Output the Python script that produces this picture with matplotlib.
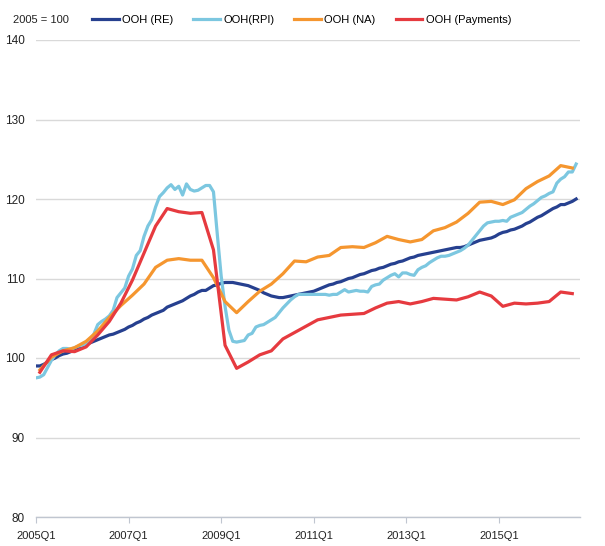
import numpy as np
import matplotlib
matplotlib.use("Agg")
import matplotlib.pyplot as plt

plt.rcParams['font.family'] = ['Liberation Sans', 'DejaVu Sans']

# monthly series, Jan 2005 .. Sep 2016 (index 0 = 2005 M1)
ooh_re = [
    99.0, 99.0, 99.2, 99.5, 99.8, 100.0, 100.3, 100.5, 100.6, 100.8, 101.0, 101.3,
    101.5, 101.7, 101.9, 102.1, 102.3, 102.5, 102.7, 102.9, 103.0, 103.2, 103.4, 103.6,
    103.9, 104.1, 104.4, 104.6, 104.9, 105.1, 105.4, 105.6, 105.8, 106.0, 106.4, 106.6,
    106.8, 107.0, 107.2, 107.5, 107.8, 108.0, 108.3, 108.5, 108.5, 108.8, 109.1, 109.2,
    109.4, 109.5, 109.5, 109.5, 109.4, 109.3, 109.2, 109.1, 108.9, 108.7, 108.5, 108.2,
    108.0, 107.8, 107.7, 107.6, 107.6, 107.7, 107.8, 107.9, 108.0, 108.1, 108.2, 108.3,
    108.4, 108.6, 108.8, 109.0, 109.2, 109.3, 109.5, 109.6, 109.8, 110.0, 110.1, 110.3,
    110.5, 110.6, 110.8, 111.0, 111.1, 111.3, 111.4, 111.6, 111.8, 111.9, 112.1, 112.2,
    112.4, 112.6, 112.7, 112.9, 113.0, 113.1, 113.2, 113.3, 113.4, 113.5, 113.6, 113.7,
    113.8, 113.9, 113.9, 114.0, 114.2, 114.4, 114.6, 114.8, 114.9, 115.0, 115.1, 115.3,
    115.6, 115.8, 115.9, 116.1, 116.2, 116.4, 116.6, 116.9, 117.1, 117.4, 117.7, 117.9,
    118.2, 118.5, 118.8, 119.0, 119.3, 119.3, 119.5, 119.7, 120.0,
]

ooh_rpi = [
    97.5, 97.6, 97.9, 98.8, 99.7, 100.4, 100.9, 101.2, 101.2, 101.1, 101.3, 101.5,
    101.6, 101.8, 102.3, 103.0, 104.2, 104.6, 104.9, 105.3, 106.0, 107.6, 108.2, 108.8,
    110.3, 111.2, 112.9, 113.5, 115.3, 116.6, 117.4, 119.0, 120.3, 120.8, 121.4, 121.8,
    121.2, 121.6, 120.5, 121.9, 121.2, 121.0, 121.1, 121.4, 121.7, 121.7, 120.9, 115.5,
    110.3, 106.5, 103.5, 102.1, 102.0, 102.1, 102.2, 102.9, 103.1, 103.9, 104.1, 104.2,
    104.5, 104.8, 105.1, 105.7, 106.3, 106.8, 107.3, 107.7, 108.0, 108.0, 108.0, 108.0,
    108.0, 108.0, 108.0, 108.0, 107.9, 108.0, 108.0, 108.3, 108.6, 108.3, 108.4, 108.5,
    108.4, 108.4, 108.3, 109.0, 109.2, 109.3, 109.8, 110.1, 110.4, 110.6, 110.2, 110.7,
    110.7, 110.5, 110.4, 111.1, 111.4, 111.6, 112.0, 112.3, 112.6, 112.8, 112.8, 112.9,
    113.1, 113.3, 113.5, 113.8, 114.2, 114.8, 115.4, 116.0, 116.6, 117.0, 117.1, 117.2,
    117.2, 117.3, 117.2, 117.7, 117.9, 118.1, 118.3, 118.7, 119.1, 119.4, 119.8, 120.2,
    120.4, 120.7, 120.9, 122.0, 122.5, 122.8, 123.4, 123.4, 124.4,
]

# quarterly series, 2005Q1 .. 2016Q3, drawn at the middle month of each quarter
ooh_na = [
    98.5, 100.1, 100.9, 101.3, 102.1, 103.4, 105.1, 106.6, 107.9, 109.3, 111.4, 112.3,
    112.5, 112.3, 112.3, 110.1, 107.1, 105.7, 107.1, 108.4, 109.3, 110.6, 112.2, 112.1,
    112.7, 112.9, 113.9, 114.0, 113.9, 114.5, 115.3, 114.9, 114.6, 114.9, 116.0, 116.4,
    117.1, 118.2, 119.6, 119.7, 119.3, 119.9, 121.3, 122.2, 122.9, 124.2, 123.9,
]

ooh_pay = [
    98.2, 100.4, 100.9, 100.8, 101.4, 102.9, 104.6, 106.9, 109.8, 113.2, 116.6, 118.8,
    118.4, 118.2, 118.3, 113.6, 101.6, 98.7, 99.5, 100.4, 100.9, 102.4, 103.2, 104.0,
    104.8, 105.1, 105.4, 105.5, 105.6, 106.3, 106.9, 107.1, 106.8, 107.1, 107.5, 107.4,
    107.3, 107.7, 108.3, 107.8, 106.5, 106.9, 106.8, 106.9, 107.1, 108.3, 108.1,
]

tick_labels = ["2005Q1", "2007Q1", "2009Q1", "2011Q1", "2013Q1", "2015Q1"]

x_m = np.arange(len(ooh_re))
x_q = np.arange(len(ooh_na)) * 3 + 1

fig = plt.figure(figsize=(6.05, 5.46), dpi=100)
ax = fig.add_axes([36 / 605, 1 - 517 / 546, (580 - 36) / 605, (517 - 40) / 546])

lw = 2.3
ax.plot(x_m, ooh_re, color="#26408f", lw=lw, label="OOH (RE)")
ax.plot(x_m, ooh_rpi, color="#7cc7e0", lw=lw, label="OOH(RPI)")
ax.plot(x_q, ooh_na, color="#f5962f", lw=lw, label="OOH (NA)")
ax.plot(x_q, ooh_pay, color="#e63a3f", lw=lw, label="OOH (Payments)")

ax.set_xlim(0, 141)
ax.set_ylim(80, 140)
ax.set_yticks(range(80, 141, 10))
ax.set_xticks(range(0, 121, 24))
ax.set_xticklabels(tick_labels)

ax.grid(axis="y", color="#d9d9d9", lw=1)
ax.set_axisbelow(True)
for s in ["left", "right", "top"]:
    ax.spines[s].set_visible(False)
ax.spines["bottom"].set_color("#c0c6d0")
ax.spines["bottom"].set_linewidth(1)
ax.tick_params(axis="y", length=0, labelsize=8.5, pad=8, colors="#222222")
ax.tick_params(axis="x", length=4, color="#c0c6d0", labelsize=8, pad=6, colors="#222222")

fig.text(13 / 605, 1 - 20 / 546, "2005 = 100", fontsize=8, va="center", color="#222222")
fig.legend(loc="center left", bbox_to_anchor=(92 / 605, 1 - 20 / 546), ncol=4,
           frameon=False, fontsize=8, handlelength=2.4, handletextpad=0.3,
           columnspacing=1.8, borderpad=0, borderaxespad=0)

fig.savefig("out.png", dpi=100)
